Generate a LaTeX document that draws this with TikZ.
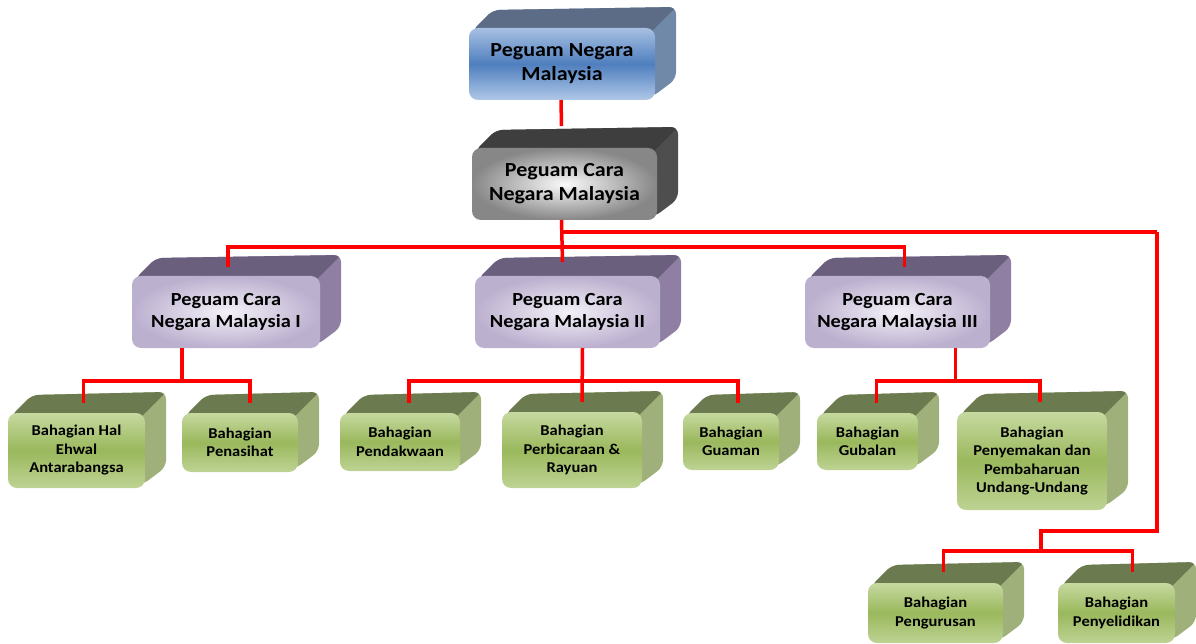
\documentclass[tikz,border=0pt]{standalone}
\usepackage{fontspec}
\setmainfont{Carlito}[FakeStretch=1.1]
\usetikzlibrary{calc}
\definecolor{linered}{RGB}{255,0,0}
\definecolor{bluetopc}{RGB}{93,108,134}
\definecolor{bluesidec}{RGB}{113,137,169}
\definecolor{blueA}{RGB}{167,192,226}
\definecolor{blueB}{RGB}{79,127,190}
\definecolor{blueC}{RGB}{176,200,232}
\definecolor{graytopc}{RGB}{62,62,62}
\definecolor{graysidec}{RGB}{78,78,78}
\definecolor{grayA}{RGB}{250,250,250}
\definecolor{grayB}{RGB}{135,135,135}
\definecolor{purptopc}{RGB}{107,95,126}
\definecolor{purpsidec}{RGB}{143,128,163}
\definecolor{purpA}{RGB}{244,241,248}
\definecolor{purpB}{RGB}{188,176,207}
\definecolor{greentopc}{RGB}{108,122,80}
\definecolor{greensidec}{RGB}{159,176,122}
\definecolor{greenA}{RGB}{198,217,160}
\definecolor{greenB}{RGB}{154,184,92}
\definecolor{greenC}{RGB}{190,211,148}
\tikzset{
  conn/.style={draw=linered, line width=3.5pt},
  frontbase/.style={rounded corners=9pt, inner sep=0pt, outer sep=0pt, align=center, text=black},
  bluetop/.style={fill=bluetopc}, blueside/.style={fill=bluesidec},
  bluefront/.style={frontbase, top color=blueA, bottom color=blueC, middle color=blueB},
  graytop/.style={fill=graytopc}, grayside/.style={fill=graysidec},
  grayfront/.style={frontbase, inner color=grayA, outer color=grayB},
  purptop/.style={fill=purptopc}, purpside/.style={fill=purpsidec},
  purpfront/.style={frontbase, inner color=purpA, outer color=purpB},
  greentop/.style={fill=greentopc}, greenside/.style={fill=greensidec},
  greenfront/.style={frontbase, top color=greenA, bottom color=greenC, middle color=greenB},
  bigtext/.style={font=\bfseries\fontsize{20}{24}\selectfont},
  midtext/.style={font=\bfseries\fontsize{18.5}{22}\selectfont},
  smalltext/.style={font=\bfseries\fontsize{15}{18.5}\selectfont},
}
% #1 name, #2 kind, #3 x1, #4 y1, #5 x2, #6 y2, #7 depth, #8 text style, #9 text
\newcommand\bevelbox[9]{%
  \begin{scope}
    \clip[rounded corners=7pt] (#3+3,#4+3) -- (#3+3+#7,#4+3-#7) -- (#5+#7,#4-#7)
      -- (#5+#7,#6-#7) -- (#5-3,#6-3) -- cycle;
    \fill[#2side] (#3,#4-#7-5) rectangle (#5+#7+5,#6);
    \fill[#2top] (#3-10,#4+3) -- (#3-10,#4-#7-5) -- (#5+#7+5,#4-#7-5) -- (#5-3,#4+3) -- cycle;
  \end{scope}
  \node[#2front, #8, minimum width={(#5-#3)*1pt}, minimum height={(#6-#4)*1pt}]
    (#1) at ({(#3+#5)/2},{(#4+#6)/2}) {#9};
}
\begin{document}
\begin{tikzpicture}[x=1pt,y=-1pt]
\useasboundingbox (0,0) rectangle (1196,644);
% boxes
\bevelbox{n0}{blue}{469}{28}{655}{100}{21}{bigtext}{Peguam Negara\\Malaysia}
\bevelbox{n1}{gray}{472}{148}{657}{220}{21}{bigtext}{Peguam Cara\\Negara Malaysia}
\bevelbox{p1}{purp}{132}{276}{320}{348}{21}{midtext}{Peguam Cara\\Negara Malaysia I}
\bevelbox{p2}{purp}{475}{276}{660}{348}{21}{midtext}{Peguam Cara\\Negara Malaysia II}
\bevelbox{p3}{purp}{805}{276}{990}{348}{21}{midtext}{Peguam Cara\\Negara Malaysia III}
\bevelbox{g1}{green}{8}{413}{145}{488}{21}{smalltext}{Bahagian Hal\\Ehwal\\Antarabangsa}
\bevelbox{g2}{green}{182}{413}{298}{472}{21}{smalltext}{Bahagian\\Penasihat}
\bevelbox{g3}{green}{340}{413}{460}{471}{21}{smalltext}{Bahagian\\Pendakwaan}
\bevelbox{g4}{green}{502}{412}{642}{488}{21}{smalltext}{Bahagian\\Perbicaraan \&\\Rayuan}
\bevelbox{g5}{green}{683}{413}{779}{470}{21}{smalltext}{Bahagian\\Guaman}
\bevelbox{g6}{green}{817}{413}{918}{470}{21}{smalltext}{Bahagian\\Gubalan}
\bevelbox{g7}{green}{957}{412}{1107}{510}{21}{smalltext}{Bahagian\\Penyemakan dan\\Pembaharuan\\Undang-Undang}
\bevelbox{g8}{green}{868}{583}{1003}{643}{21}{smalltext}{Bahagian\\Pengurusan}
\bevelbox{g9}{green}{1058}{583}{1175}{643}{21}{smalltext}{Bahagian\\Penyelidikan}
% connectors
\draw[conn] ($(n0.south)+(-1,0)$) -- ($(n1.north)+(-3,-22)$);
\draw[conn] ($(n1.south)+(-3,0)$) -- ($(p2.north)+(-5,-14)$);
\coordinate (rb) at (1157,232);
\draw[conn] ($(n1.south)+(-3,12)$) -- (rb);
\draw[conn] ($(p1.north)+(2,-9)$) |- ($(n1.south)+(-3,27)$) -| ($(p3.north)+(7,-9)$);
\coordinate (rb2) at (1041,531);
\draw[conn] (rb) |- (rb2) -- ($(rb2)+(0,20)$);
\draw[conn] ($(g8.north)+(8,-11)$) |- ($(rb2)+(0,20)$) -| ($(g9.north)+(16,-11)$);
% level 3
\draw[conn] ($(p1.south)+(-44,0)$) -- ($(p1.south)+(-44,33)$);
\draw[conn] ($(g1.north)+(7,-10)$) |- ($(p1.south)+(-44,33)$) -| ($(g2.north)+(10,-10)$);
\draw[conn] ($(p2.south)+(15,0)$) -- ($(g4.north)+(10,-10)$);
\draw[conn] ($(g3.north)+(9,-10)$) |- ($(p2.south)+(15,33)$) -| ($(g5.north)+(7,-10)$);
\draw[conn] ($(p3.south)+(58,0)$) -- ($(p3.south)+(58,33)$);
\draw[conn] ($(g6.north)+(9,-10)$) |- ($(p3.south)+(58,33)$) -| ($(g7.north)+(8,-10)$);
\end{tikzpicture}
\end{document}
